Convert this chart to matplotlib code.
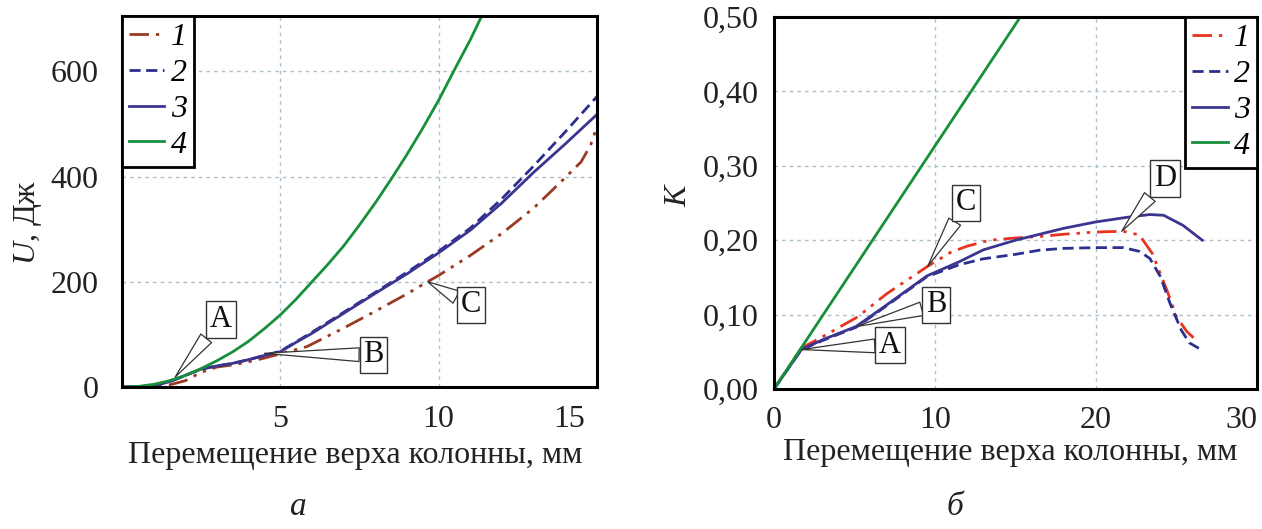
import matplotlib
matplotlib.use("Agg")
import matplotlib.pyplot as plt
from matplotlib.transforms import ScaledTranslation

plt.rcParams['font.family'] = ['Liberation Serif', 'DejaVu Serif']
plt.rcParams['mathtext.fontset'] = 'custom'
plt.rcParams['mathtext.rm'] = 'Liberation Serif'
plt.rcParams['mathtext.it'] = 'Liberation Serif:italic'

# ---------------- data: panel a (U, J) ----------------
a_x1 = [0, 0.5, 1, 1.5, 2, 2.5, 3, 3.5, 4, 4.5, 5, 5.85, 7, 8, 9, 9.65, 10, 11, 12, 13, 14, 14.5, 14.8, 15]
a_u1 = [0, 0, 1, 4, 12, 28, 38, 42, 48, 55, 63, 77, 112, 144, 177, 200, 212, 250, 292, 340, 398, 428, 460, 495]

a_x2 = [0, 0.5, 1, 1.5, 2, 2.5, 3, 3.5, 4, 4.5, 5, 5.5, 6, 7, 8, 9, 10, 11, 12, 13, 14, 15]
a_u2 = [0, 0, 3, 10, 22, 34, 40, 45, 52, 60, 68, 86, 104, 142, 180, 218, 258, 302, 358, 420, 485, 552]

a_x3 = [0, 0.5, 1, 1.5, 2, 2.5, 3, 3.5, 4, 4.5, 5, 5.5, 6, 7, 8, 9, 10, 11, 12, 13, 14, 15]
a_u3 = [0, 0, 3, 10, 22, 34, 40, 45, 52, 60, 67, 85, 102, 140, 178, 215, 255, 298, 350, 408, 462, 518]

a_x4 = [0, 0.5, 1, 1.5, 2, 2.5, 3, 3.5, 4, 4.5, 5, 5.5, 6, 6.5, 7, 7.5, 8, 8.5, 9, 9.5, 10, 10.5, 11, 11.4]
a_u4 = [0, 1, 5, 12, 22, 35, 50, 67, 87, 111, 137, 167, 200, 233, 268, 308, 350, 395, 442, 492, 545, 603, 660, 710]

# ---------------- data: panel b (K) ----------------
b_x1 = [0, 1.7, 3, 5.2, 7, 9.55, 11, 12, 13.4, 15, 16.5, 18, 20, 21.7, 22.7, 23.5, 24.4, 25, 25.65, 26.2]
b_k1 = [0, 0.055, 0.07, 0.097, 0.128, 0.165, 0.184, 0.192, 0.2, 0.203, 0.205, 0.208, 0.211, 0.212, 0.207, 0.182, 0.133, 0.097, 0.077, 0.066]

b_x2 = [0, 1.7, 3, 5.1, 7, 9.5, 11.5, 13, 15, 16.5, 18, 20, 21.7, 22.7, 23.35, 24, 24.6, 25.3, 25.8, 26.6]
b_k2 = [0, 0.053, 0.065, 0.083, 0.112, 0.151, 0.167, 0.175, 0.181, 0.1866, 0.189, 0.19, 0.19, 0.185, 0.1754, 0.151, 0.115, 0.079, 0.062, 0.052]

b_x3 = [0, 1.7, 3, 5.1, 7, 9.5, 11.5, 13, 15, 16.5, 18, 20, 22, 23.35, 24.2, 25.4, 26.6]
b_k3 = [0, 0.053, 0.066, 0.084, 0.113, 0.152, 0.171, 0.187, 0.2, 0.208, 0.216, 0.2246, 0.231, 0.2345, 0.2335, 0.22, 0.2]

b_x4 = [0, 15.3]
b_k4 = [0, 0.5]

legend_labels = ['1', '2', '3', '4']
xlabel = 'Перемещение верха колонны, мм'

# styles
DASHDOTDOT = (0, (7, 2.5, 1.2, 2.5, 1.2, 2.5))
DASHED = (0, (4, 2))
c1a = '#9a3a22'
c1b = '#e8331f'
c2 = '#2b2f8e'
c3 = '#3b3590'
c4 = '#16903a'
gridc = '#a9bfcc'
txtc = '#222222'
FS = 23

fig = plt.figure(figsize=(12.62, 5.29), dpi=100)
axA = fig.add_axes([122/1262, 1-387/529, 475/1262, 371/529])
axB = fig.add_axes([774/1262, 1-389/529, 483/1262, 372/529])

lw = 2.0
axA.plot(a_x1, a_u1, color=c1a, lw=lw, ls=DASHDOTDOT, label=legend_labels[0])
axA.plot(a_x2, a_u2, color=c2, lw=lw, ls=DASHED, label=legend_labels[1])
axA.plot(a_x3, a_u3, color=c3, lw=lw, ls='-', label=legend_labels[2])
axA.plot(a_x4, a_u4, color=c4, lw=lw, ls='-', label=legend_labels[3])

axB.plot(b_x1, b_k1, color=c1b, lw=lw, ls=DASHDOTDOT, label=legend_labels[0])
axB.plot(b_x2, b_k2, color=c2, lw=lw, ls=DASHED, label=legend_labels[1])
axB.plot(b_x3, b_k3, color=c3, lw=lw, ls='-', label=legend_labels[2])
axB.plot(b_x4, b_k4, color=c4, lw=lw, ls='-', label=legend_labels[3])

axA.set_xlim(0, 15)
axA.set_ylim(0, 705)
axA.set_xticks([5, 10, 15])
axA.set_yticks([0, 200, 400, 600])
axB.set_xlim(0, 30)
axB.set_ylim(0, 0.5)
axB.set_xticks([0, 10, 20, 30])
axB.set_yticks([0, 0.1, 0.2, 0.3, 0.4, 0.5])
axB.set_yticklabels([f'{v:.2f}'.replace('.', ',') for v in [0, 0.1, 0.2, 0.3, 0.4, 0.5]])

for ax in (axA, axB):
    ax.grid(True, color=gridc, ls=(0, (2.5, 3)), lw=1.0)
    ax.set_axisbelow(True)
    for s in ax.spines.values():
        s.set_linewidth(2.2)
        s.set_color('black')
    ax.tick_params(length=0, labelsize=FS, colors=txtc)
    ax.set_xlabel(xlabel, fontsize=FS, color=txtc)

axA.tick_params(axis='y', pad=17)
axA.tick_params(axis='x', pad=13)
axB.tick_params(axis='y', pad=11)
axB.tick_params(axis='x', pad=12)

# last x tick labels sit left of the axis end in the reference
fig.canvas.draw()
lblA = axA.get_xticklabels()[-1]
lblA.set_transform(lblA.get_transform() + ScaledTranslation(-28/100, 0, fig.dpi_scale_trans))
lblB = axB.get_xticklabels()[-1]
lblB.set_transform(lblB.get_transform() + ScaledTranslation(-16/100, 0, fig.dpi_scale_trans))

axA.set_ylabel('$U$, Дж', fontsize=FS, color=txtc)
axA.yaxis.set_label_coords(-0.165, 0.445)
axB.set_ylabel('$K$', fontsize=FS, color=txtc)
axB.yaxis.set_label_coords(-0.168, 0.524)
axA.xaxis.set_label_coords(0.49, -0.146)
axB.xaxis.set_label_coords(0.49, -0.132)

legkw = dict(prop={'family': 'Liberation Serif', 'style': 'italic', 'size': 23},
             frameon=True, fancybox=False, edgecolor='black', framealpha=1,
             handlelength=1.1, handletextpad=0.2, labelspacing=0.2, borderpad=0.22,
             borderaxespad=0)
legA = axA.legend(loc='upper left', bbox_to_anchor=(0, 1), **legkw)
legB = axB.legend(loc='upper right', bbox_to_anchor=(1, 1), **legkw)
for leg in (legA, legB):
    leg.get_frame().set_linewidth(2.0)

def callout(ax, text, xy, xytext):
    ax.annotate(text, xy=xy, xytext=xytext, xycoords='data', textcoords='data',
                fontsize=22, ha='center', va='center', color='#111111',
                bbox=dict(boxstyle='square,pad=0.12', fc='white', ec='#333333', lw=1.0),
                arrowprops=dict(arrowstyle='wedge,tail_width=0.45,shrink_factor=0.5',
                                fc='white', ec='#333333', lw=0.9,
                                shrinkA=0, shrinkB=0),
                zorder=6)

callout(axA, 'A', (1.68, 19), (3.13, 128))
callout(axA, 'B', (4.5, 64), (7.94, 61))
callout(axA, 'C', (9.65, 200), (11.01, 156))

callout(axB, 'A', (1.72, 0.053), (7.2, 0.059))
callout(axB, 'B', (5.14, 0.084), (10.06, 0.113))
callout(axB, 'C', (9.55, 0.165), (11.93, 0.25))
callout(axB, 'D', (21.6, 0.212), (24.29, 0.283))

fig.text(298/1262, 1-507/529, 'а', fontsize=24, style='italic', ha='center', va='center', color=txtc)
fig.text(955/1262, 1-507/529, 'б', fontsize=24, style='italic', ha='center', va='center', color=txtc)

fig.savefig('out.png', dpi=100)
